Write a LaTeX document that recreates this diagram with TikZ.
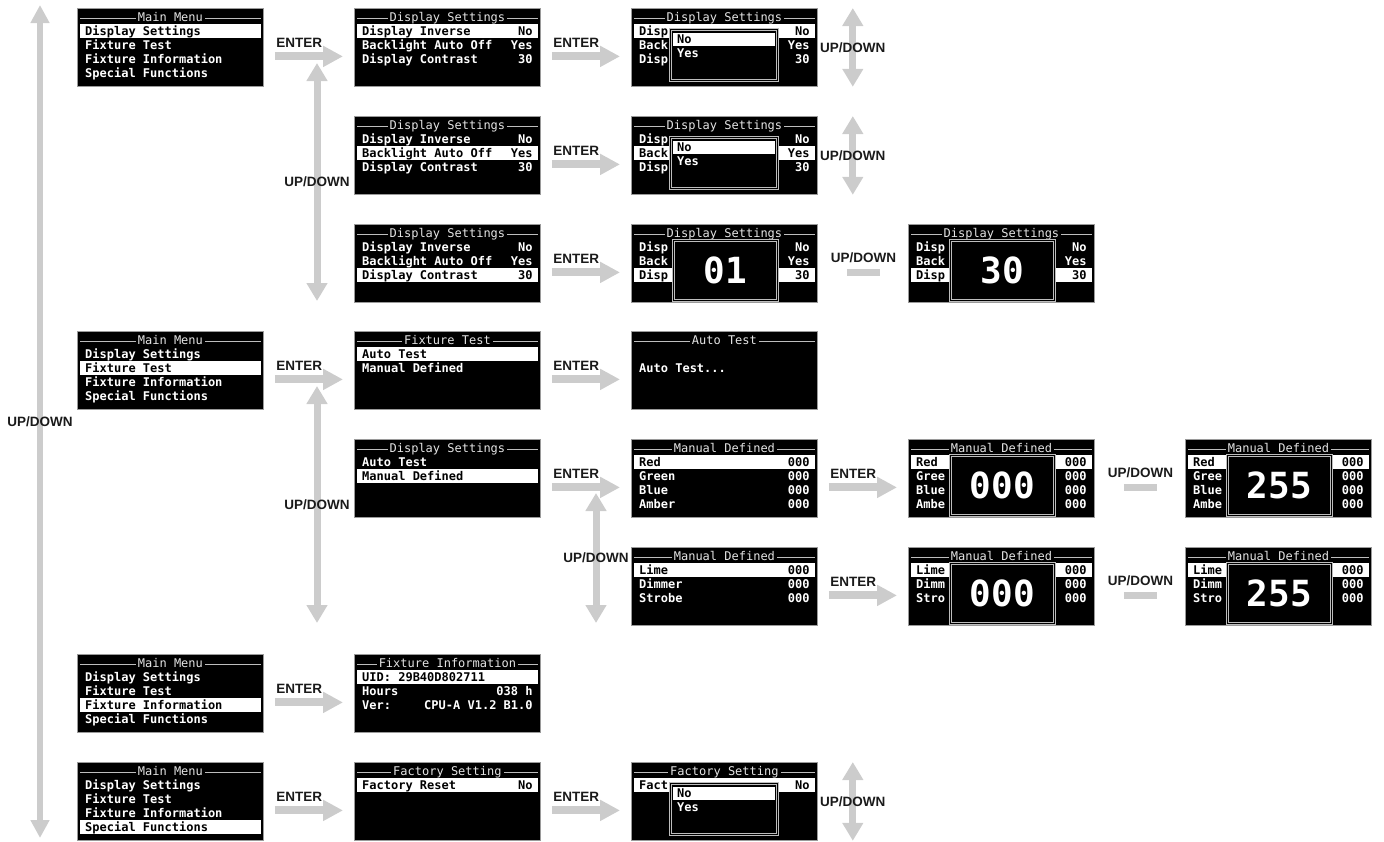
\documentclass[tikz,border=0pt]{standalone}
\usepackage{fontspec}
\setmainfont{Liberation Sans}
\newfontfamily\lcdfont{DejaVu Sans Mono}
\usetikzlibrary{arrows.meta, calc}
\definecolor{lcdline}{HTML}{BDBDBD}
\definecolor{lcdframe}{HTML}{9A9A9A}
\definecolor{lcdtitle}{HTML}{E4E4E4}
\definecolor{keygrey}{HTML}{CCCCCC}
\definecolor{keyink}{HTML}{1A1A1A}

% screen: name, left, top, title
\newcommand{\lcdscreen}[4]{%
  \node[lcd] (#1) at (#2,#3) {};
  \draw[ttlline] ($(#1.north west)+(3,10)$) -- ($(#1.north east)+(-3,10)$);
  \node[ttl] (#1-t) at ($(#1.north)+(0,13)$) {#4};}
% plain row: screen, row, left text, right text
\newcommand{\lcdrow}[4]{%
  \node[lcdtxt, anchor=base west] (#1-l#2) at ($(#1.north west)+(8,{13+14*#2})$) {#3};
  \node[lcdtxt, anchor=base east] (#1-r#2) at ($(#1.north east)+(-8,{13+14*#2})$) {#4};}
% selected row
\newcommand{\lcdsel}[4]{%
  \fill[white] ($(#1.north west)+(3,{2+14*#2})$) rectangle ($(#1.north east)+(-3,{16+14*#2})$);
  \node[lcdtxt, text=black, anchor=base west] (#1-l#2) at ($(#1.north west)+(8,{13+14*#2})$) {#3};
  \node[lcdtxt, text=black, anchor=base east] (#1-r#2) at ($(#1.north east)+(-8,{13+14*#2})$) {#4};}
% No/Yes pop-up
\newcommand{\lcdpick}[1]{%
  \node[pop, minimum width=107pt, minimum height=51pt] (#1-p) at ($(#1.north west)+(39,21)$) {};
  \fill[white] ($(#1-p.north west)+(3,4)$) rectangle ($(#1-p.north east)+(-3,17)$);
  \node[lcdtxt, text=black, anchor=base west] (#1-no) at ($(#1-p.north west)+(7,14.5)$) {No};
  \node[lcdtxt, anchor=base west] (#1-yes) at ($(#1-p.north west)+(7,28)$) {Yes};}
% value pop-up
\newcommand{\lcdnum}[2]{%
  \node[pop, minimum width=104pt, minimum height=60pt] (#1-p) at ($(#1.north west)+(42,16)$) {};
  \node[bignum] (#1-v) at (#1-p.center) {#2};}
\newcommand{\enterarrow}[3]{%
  \draw[fat] ($(#1.east)+(11,9)$) -- node[key, pos=.36, anchor=base, yshift=9pt] (#3) {ENTER} ($(#2.west)+(-11,9)$);}

\begin{document}
\begin{tikzpicture}[x=1pt, y=-1pt,
      lcd/.style={fill=black, draw=lcdframe, line width=.8pt, minimum width=186pt, minimum height=78pt, anchor=north west, inner sep=0},
      ttlline/.style={draw=lcdline, line width=.9pt},
      ttl/.style={font=\lcdfont\fontsize{12}{14}\selectfont, text=lcdtitle, fill=black, inner xsep=2pt, inner ysep=1pt, anchor=base},
      lcdtxt/.style={font=\lcdfont\bfseries\fontsize{12}{14}\selectfont, text=white, inner sep=0},
      pop/.style={fill=black, draw=lcdline, line width=.7pt, double=black, double distance=1.2pt, anchor=north west, inner sep=0},
      bignum/.style={font=\lcdfont\bfseries\fontsize{36}{40}\selectfont, text=white, inner sep=0},
      key/.style={font=\fontsize{13.5}{16}\selectfont\bfseries, text=keyink, inner sep=0},
      fat/.style={draw=keygrey, line width=8pt, -{Triangle[length=20pt, width=20pt]}},
      bar/.style={draw=keygrey, line width=7pt},
      updown/.style={draw=keygrey, line width=7pt, {Triangle[length=18pt, width=20pt]}-{Triangle[length=18pt, width=20pt]}},
      mainud/.style={draw=keygrey, line width=6pt, {Triangle[length=18pt, width=18pt]}-{Triangle[length=18pt, width=18pt]}}]
\useasboundingbox (0,0) rectangle (1384,841);

% main menu
\lcdscreen{mm1}{77}{8}{Main Menu}
\lcdsel{mm1}{1}{Display Settings}{} \lcdrow{mm1}{2}{Fixture Test}{} \lcdrow{mm1}{3}{Fixture Information}{} \lcdrow{mm1}{4}{Special Functions}{}
\lcdscreen{mm2}{77}{331}{Main Menu}
\lcdrow{mm2}{1}{Display Settings}{} \lcdsel{mm2}{2}{Fixture Test}{} \lcdrow{mm2}{3}{Fixture Information}{} \lcdrow{mm2}{4}{Special Functions}{}
\lcdscreen{mm3}{77}{654}{Main Menu}
\lcdrow{mm3}{1}{Display Settings}{} \lcdrow{mm3}{2}{Fixture Test}{} \lcdsel{mm3}{3}{Fixture Information}{} \lcdrow{mm3}{4}{Special Functions}{}
\lcdscreen{mm4}{77}{762}{Main Menu}
\lcdrow{mm4}{1}{Display Settings}{} \lcdrow{mm4}{2}{Fixture Test}{} \lcdrow{mm4}{3}{Fixture Information}{} \lcdsel{mm4}{4}{Special Functions}{}

% second level
\lcdscreen{ds1}{354}{8}{Display Settings}
\lcdsel{ds1}{1}{Display Inverse}{No} \lcdrow{ds1}{2}{Backlight Auto Off}{Yes} \lcdrow{ds1}{3}{Display Contrast}{30}
\lcdscreen{ds2}{354}{116}{Display Settings}
\lcdrow{ds2}{1}{Display Inverse}{No} \lcdsel{ds2}{2}{Backlight Auto Off}{Yes} \lcdrow{ds2}{3}{Display Contrast}{30}
\lcdscreen{ds3}{354}{224}{Display Settings}
\lcdrow{ds3}{1}{Display Inverse}{No} \lcdrow{ds3}{2}{Backlight Auto Off}{Yes} \lcdsel{ds3}{3}{Display Contrast}{30}
\lcdscreen{ft1}{354}{331}{Fixture Test}
\lcdsel{ft1}{1}{Auto Test}{} \lcdrow{ft1}{2}{Manual Defined}{}
\lcdscreen{ft2}{354}{439}{Display Settings}
\lcdrow{ft2}{1}{Auto Test}{} \lcdsel{ft2}{2}{Manual Defined}{}
\lcdscreen{fi}{354}{654}{Fixture Information}
\lcdsel{fi}{1}{UID: 29B40D802711}{} \lcdrow{fi}{2}{Hours}{038 h} \lcdrow{fi}{3}{Ver:}{CPU-A V1.2 B1.0}
\lcdscreen{fs}{354}{762}{Factory Setting}
\lcdsel{fs}{1}{Factory Reset}{No}

% third level
\lcdscreen{ds1b}{631}{8}{Display Settings}
\lcdsel{ds1b}{1}{Disp}{No} \lcdrow{ds1b}{2}{Back}{Yes} \lcdrow{ds1b}{3}{Disp}{30} \lcdpick{ds1b}
\lcdscreen{ds2b}{631}{116}{Display Settings}
\lcdrow{ds2b}{1}{Disp}{No} \lcdsel{ds2b}{2}{Back}{Yes} \lcdrow{ds2b}{3}{Disp}{30} \lcdpick{ds2b}
\lcdscreen{ds3b}{631}{224}{Display Settings}
\lcdrow{ds3b}{1}{Disp}{No} \lcdrow{ds3b}{2}{Back}{Yes} \lcdsel{ds3b}{3}{Disp}{30} \lcdnum{ds3b}{01}
\lcdscreen{at}{631}{331}{Auto Test}
\lcdrow{at}{2}{Auto Test...}{}
\lcdscreen{md1}{631}{439}{Manual Defined}
\lcdsel{md1}{1}{Red}{000} \lcdrow{md1}{2}{Green}{000} \lcdrow{md1}{3}{Blue}{000} \lcdrow{md1}{4}{Amber}{000}
\lcdscreen{md2}{631}{547}{Manual Defined}
\lcdsel{md2}{1}{Lime}{000} \lcdrow{md2}{2}{Dimmer}{000} \lcdrow{md2}{3}{Strobe}{000}
\lcdscreen{fsb}{631}{762}{Factory Setting}
\lcdsel{fsb}{1}{Fact}{No} \lcdpick{fsb}

% values
\lcdscreen{ds3c}{908}{224}{Display Settings}
\lcdrow{ds3c}{1}{Disp}{No} \lcdrow{ds3c}{2}{Back}{Yes} \lcdsel{ds3c}{3}{Disp}{30} \lcdnum{ds3c}{30}
\lcdscreen{mdp1}{908}{439}{Manual Defined}
\lcdsel{mdp1}{1}{Red}{000} \lcdrow{mdp1}{2}{Gree}{000} \lcdrow{mdp1}{3}{Blue}{000} \lcdrow{mdp1}{4}{Ambe}{000} \lcdnum{mdp1}{000}
\lcdscreen{mdp2}{908}{547}{Manual Defined}
\lcdsel{mdp2}{1}{Lime}{000} \lcdrow{mdp2}{2}{Dimm}{000} \lcdrow{mdp2}{3}{Stro}{000} \lcdnum{mdp2}{000}
\lcdscreen{mdv1}{1185}{439}{Manual Defined}
\lcdsel{mdv1}{1}{Red}{000} \lcdrow{mdv1}{2}{Gree}{000} \lcdrow{mdv1}{3}{Blue}{000} \lcdrow{mdv1}{4}{Ambe}{000} \lcdnum{mdv1}{255}
\lcdscreen{mdv2}{1185}{547}{Manual Defined}
\lcdsel{mdv2}{1}{Lime}{000} \lcdrow{mdv2}{2}{Dimm}{000} \lcdrow{mdv2}{3}{Stro}{000} \lcdnum{mdv2}{255}

% ENTER arrows
\enterarrow{mm1}{ds1}{k-mm1} \enterarrow{mm2}{ft1}{k-mm2} \enterarrow{mm3}{fi}{k-mm3} \enterarrow{mm4}{fs}{k-mm4}
\enterarrow{ds1}{ds1b}{k-ds1} \enterarrow{ds2}{ds2b}{k-ds2} \enterarrow{ds3}{ds3b}{k-ds3}
\enterarrow{ft1}{at}{k-ft1} \enterarrow{ft2}{md1}{k-ft2} \enterarrow{fs}{fsb}{k-fs}
\enterarrow{md1}{mdp1}{k-md1} \enterarrow{md2}{mdp2}{k-md2}

% UP/DOWN
\draw[bar] ($(ds3b.east)+(29,9)$) -- node[key, midway, anchor=base, yshift=10pt] (u-ds3) {UP/DOWN} ($(ds3c.west)+(-28,9)$);
\draw[bar] ($(mdp1.east)+(29,9)$) -- node[key, midway, anchor=base, yshift=10pt] (u-mdp1) {UP/DOWN} ($(mdv1.west)+(-28,9)$);
\draw[bar] ($(mdp2.east)+(29,9)$) -- node[key, midway, anchor=base, yshift=10pt] (u-mdp2) {UP/DOWN} ($(mdv2.west)+(-28,9)$);
\draw[updown] ($(ds1b.north east)+(35,0)$) -- node[key] (u-ds1b) {UP/DOWN} ($(ds1b.south east)+(35,0)$);
\draw[updown] ($(ds2b.north east)+(35,0)$) -- node[key] (u-ds2b) {UP/DOWN} ($(ds2b.south east)+(35,0)$);
\draw[updown] ($(fsb.north east)+(35,0)$) -- node[key] (u-fsb) {UP/DOWN} ($(fsb.south east)+(35,0)$);

\coordinate (dsup) at (317,63); \coordinate (dsdn) at (317,301);
\coordinate (ftup) at (317,386); \coordinate (ftdn) at (317,623);
\coordinate (mdup) at (596,493); \coordinate (mddn) at (596,623);
\coordinate (mmup) at (40,5); \coordinate (mmdn) at (40,838);
\draw[updown] (dsup) -- node[key] (u-ds) {UP/DOWN} (dsdn);
\draw[updown] (ftup) -- node[key] (u-ft) {UP/DOWN} (ftdn);
\draw[updown] (mdup) -- node[key] (u-md) {UP/DOWN} (mddn);
\draw[mainud] (mmup) -- node[key] (u-mm) {UP/DOWN} (mmdn);
\end{tikzpicture}
\end{document}
